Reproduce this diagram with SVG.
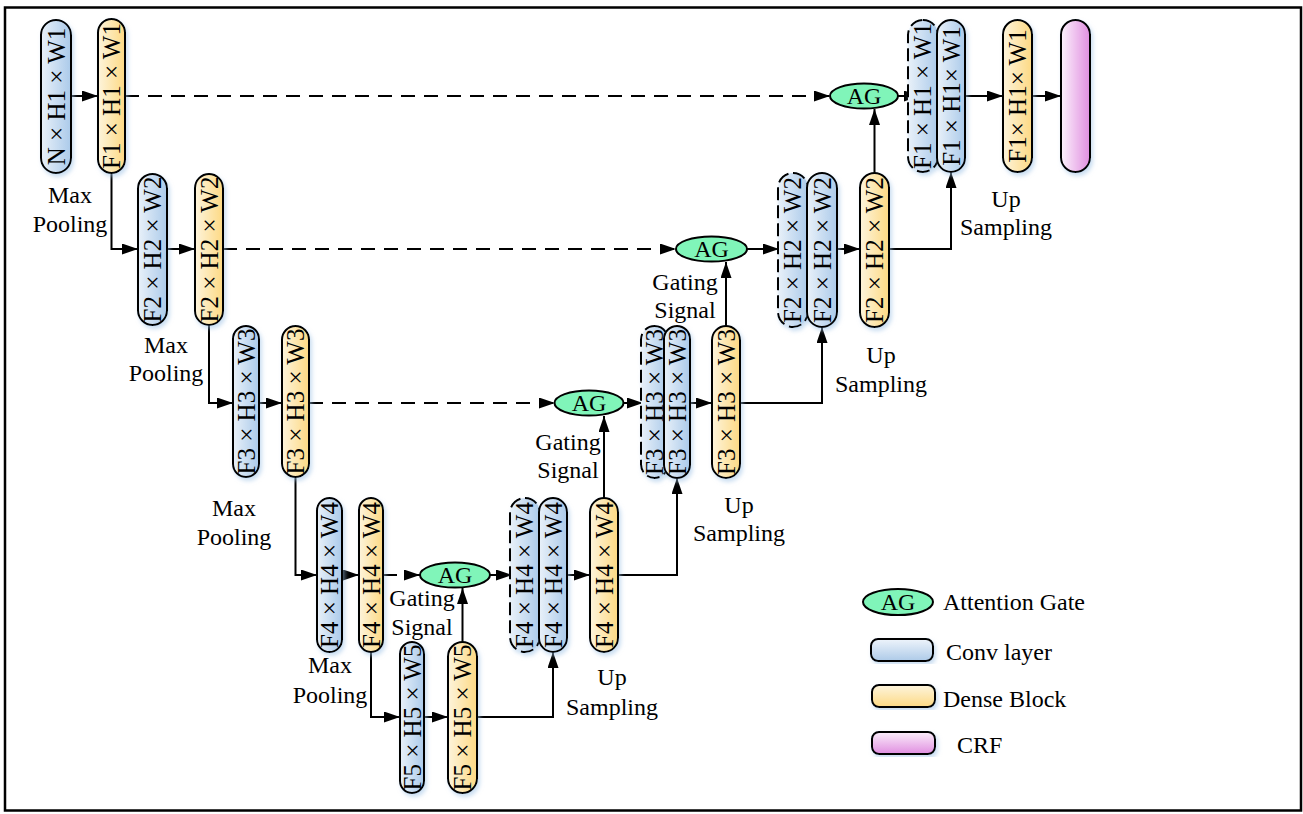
<svg xmlns="http://www.w3.org/2000/svg" width="1303" height="814" viewBox="0 0 1303 814">
<defs>
<linearGradient id="gb" x1="0" y1="0" x2="1" y2="0"><stop offset="0" stop-color="#e9f1f9"/><stop offset="1" stop-color="#abcaea"/></linearGradient>
<linearGradient id="gy" x1="0" y1="0" x2="1" y2="0"><stop offset="0" stop-color="#fdf4dc"/><stop offset="1" stop-color="#fdd983"/></linearGradient>
<linearGradient id="gp" x1="0" y1="0" x2="1" y2="0"><stop offset="0" stop-color="#fcf2fc"/><stop offset="1" stop-color="#e08ee0"/></linearGradient>
<linearGradient id="lb" x1="0" y1="0" x2="0" y2="1"><stop offset="0" stop-color="#eef4fb"/><stop offset="1" stop-color="#adcae8"/></linearGradient>
<linearGradient id="ly" x1="0" y1="0" x2="0" y2="1"><stop offset="0" stop-color="#fdf5de"/><stop offset="1" stop-color="#fdd983"/></linearGradient>
<linearGradient id="lp" x1="0" y1="0" x2="0" y2="1"><stop offset="0" stop-color="#fbeffb"/><stop offset="1" stop-color="#e08ee0"/></linearGradient>
<filter id="sh" x="-40%" y="-10%" width="180%" height="120%"><feDropShadow dx="2" dy="3" stdDeviation="2" flood-color="#9fc3e6" flood-opacity="0.55"/></filter>
<marker id="ah" markerUnits="userSpaceOnUse" markerWidth="16" markerHeight="11" refX="16" refY="5.5" orient="auto"><path d="M0,0 L16,5.5 L0,11 z" fill="#000"/></marker>
</defs>
<style>
.pb{fill:url(#gb);stroke:#000;stroke-width:2;filter:url(#sh)}
.py{fill:url(#gy);stroke:#000;stroke-width:2;filter:url(#sh)}
.pp{fill:url(#gp);stroke:#000;stroke-width:2;filter:url(#sh)}
.pd{fill:url(#gb);stroke:#000;stroke-width:2;stroke-dasharray:13 5;filter:url(#sh)}
.ag{fill:#80f5b9;stroke:#000;stroke-width:2}
.t{font-family:"Liberation Serif","Times New Roman",serif;font-size:24px;fill:#000}
.v{font-size:25px}
.m{text-anchor:middle}
.c{fill:none;stroke:#000;stroke-width:2}
.a{marker-end:url(#ah)}
.d{stroke-dasharray:14 9}
</style>
<rect x="5" y="7.5" width="1296" height="803" fill="#fff" stroke="#000" stroke-width="2.5"/>

<g id="connectors">
<path class="c a" d="M71,96 H98"/>
<path class="c a d" d="M125,96 H830"/>
<path class="c a" d="M111.5,173 V249 H138"/>
<path class="c a" d="M167,249 H195"/>
<path class="c a d" d="M223,249 H676"/>
<path class="c a" d="M209,325 V403 H233"/>
<path class="c a" d="M259,403 H282"/>
<path class="c a d" d="M309,403 H555"/>
<path class="c a" d="M295.5,477 V575 H317"/>
<path class="c a" d="M342,575 H359"/>
<path class="c a d" d="M383,575 H420"/>
<path class="c a" d="M371,652 V717 H400"/>
<path class="c a" d="M424,717 H448"/>
<path class="c a" d="M462.5,642 V588"/>
<path class="c a" d="M490,575 H512"/>
<path class="c a" d="M567,575 H590"/>
<path class="c a" d="M477,717 H553 V652"/>
<path class="c a" d="M604,498 V416"/>
<path class="c a" d="M623,403 H643"/>
<path class="c a" d="M690,403 H712"/>
<path class="c a" d="M618,575 H677 V478"/>
<path class="c a" d="M726,326 V262"/>
<path class="c a" d="M747,249 H779"/>
<path class="c a" d="M837,249 H860"/>
<path class="c a" d="M740,403 H822 V327"/>
<path class="c a" d="M874.5,173 V109"/>
<path class="c a" d="M898,96 H920"/>
<path class="c a" d="M965,96 H1003"/>
<path class="c a" d="M1032,96 H1061"/>
<path class="c a" d="M889,249 H951 V172"/>
</g>

<g id="n1"><rect class="pb" x="41" y="20" width="30" height="153" rx="15"/><text class="t v m" transform="translate(56,96.5) rotate(-90)" y="8.5">N × H1 × W1</text></g>
<g id="n2"><rect class="py" x="98" y="19" width="27" height="154" rx="13.5"/><text class="t v m" transform="translate(111.5,96) rotate(-90)" y="8.5">F1 × H1 × W1</text></g>
<g id="n3"><rect class="pb" x="138" y="174" width="29" height="151" rx="14.5"/><text class="t v m" transform="translate(152.5,249.5) rotate(-90)" y="8.5">F2 × H2 × W2</text></g>
<g id="n4"><rect class="py" x="195" y="174" width="28" height="151" rx="14"/><text class="t v m" transform="translate(209,249.5) rotate(-90)" y="8.5">F2 × H2 × W2</text></g>
<g id="n5"><rect class="pb" x="233" y="326" width="26" height="151" rx="13"/><text class="t v m" transform="translate(246,401.5) rotate(-90)" y="8.5">F3 × H3 × W3</text></g>
<g id="n6"><rect class="py" x="282" y="326" width="27" height="151" rx="13.5"/><text class="t v m" transform="translate(295.5,401.5) rotate(-90)" y="8.5">F3 × H3 × W3</text></g>
<g id="n7"><rect class="pb" x="317" y="498" width="25" height="154" rx="12.5"/><text class="t v m" transform="translate(329.5,575) rotate(-90)" y="8.5">F4 × H4 × W4</text></g>
<g id="n8"><rect class="py" x="359" y="498" width="24" height="154" rx="12"/><text class="t v m" transform="translate(371,575) rotate(-90)" y="8.5">F4 × H4 × W4</text></g>
<g id="n9"><rect class="pb" x="400" y="642" width="24" height="151" rx="12"/><text class="t v m" transform="translate(412,717.5) rotate(-90)" y="8.5">F5 × H5 × W5</text></g>
<g id="n10"><rect class="py" x="448" y="642" width="29" height="151" rx="14.5"/><text class="t v m" transform="translate(462.5,717.5) rotate(-90)" y="8.5">F5 × H5 × W5</text></g>

<g id="ag4"><ellipse class="ag" cx="455" cy="575" rx="35" ry="12.5"/><text class="t m" x="455" y="583">AG</text></g>
<g id="n11"><rect class="pd" x="510" y="498" width="30" height="154" rx="15"/><text class="t v m" transform="translate(524,575) rotate(-90)" y="8.5">F4 × H4 × W4</text></g>
<g id="n12"><rect class="pb" x="539" y="498" width="28" height="154" rx="14"/><text class="t v m" transform="translate(553,575) rotate(-90)" y="8.5">F4 × H4 × W4</text></g>
<g id="n13"><rect class="py" x="590" y="498" width="28" height="154" rx="14"/><text class="t v m" transform="translate(604,575) rotate(-90)" y="8.5">F4 × H4 × W4</text></g>

<g id="ag3"><ellipse class="ag" cx="589" cy="403" rx="34.5" ry="12.5"/><text class="t m" x="589" y="411">AG</text></g>
<g id="n14"><rect class="pd" x="641" y="326" width="27" height="152" rx="13.5"/><text class="t v m" transform="translate(654,402) rotate(-90)" y="8.5">F3 × H3 × W3</text></g>
<g id="n15"><rect class="pb" x="664" y="326" width="26" height="152" rx="13"/><text class="t v m" transform="translate(677,402) rotate(-90)" y="8.5">F3 × H3 × W3</text></g>
<g id="n16"><rect class="py" x="712" y="326" width="28" height="152" rx="14"/><text class="t v m" transform="translate(726,402) rotate(-90)" y="8.5">F3 × H3 × W3</text></g>

<g id="ag2"><ellipse class="ag" cx="711.5" cy="249" rx="35.5" ry="12.5"/><text class="t m" x="711.5" y="257">AG</text></g>
<g id="n17"><rect class="pd" x="778" y="173" width="30" height="154" rx="15"/><text class="t v m" transform="translate(792,250) rotate(-90)" y="8.5">F2 × H2 × W2</text></g>
<g id="n18"><rect class="pb" x="807" y="173" width="30" height="154" rx="15"/><text class="t v m" transform="translate(822,250) rotate(-90)" y="8.5">F2 × H2 × W2</text></g>
<g id="n19"><rect class="py" x="860" y="173" width="29" height="154" rx="14.5"/><text class="t v m" transform="translate(874.5,250) rotate(-90)" y="8.5">F2 × H2 × W2</text></g>

<g id="ag1"><ellipse class="ag" cx="864" cy="96" rx="34" ry="12.5"/><text class="t m" x="864" y="104">AG</text></g>
<g id="n20"><rect class="pd" x="908" y="20" width="30" height="152" rx="15"/><text class="t v m" transform="translate(922,96) rotate(-90)" y="8.5">F1 × H1 × W1</text></g>
<g id="n21"><rect class="pb" x="937" y="20" width="28" height="152" rx="14"/><text class="t v m" transform="translate(951,96) rotate(-90)" y="8.5">F1 × H1× W1</text></g>
<g id="n22"><rect class="py" x="1003" y="20" width="29" height="152" rx="14.5"/><text class="t v m" transform="translate(1017.5,96) rotate(-90)" y="8.5">F1× H1× W1</text></g>
<g id="n23"><rect class="pp" x="1061" y="20" width="29" height="152" rx="14.5"/></g>

<g id="labels">
<text class="t m" x="70" y="203">Max</text><text class="t m" x="70" y="232">Pooling</text>
<text class="t m" x="166" y="353">Max</text><text class="t m" x="166" y="381">Pooling</text>
<text class="t m" x="234" y="516">Max</text><text class="t m" x="234" y="545">Pooling</text>
<text class="t m" x="330" y="673">Max</text><text class="t m" x="330" y="703">Pooling</text>
<text class="t m" x="422" y="606">Gating</text><text class="t m" x="422" y="635">Signal</text>
<text class="t m" x="568" y="450">Gating</text><text class="t m" x="568" y="478">Signal</text>
<text class="t m" x="685" y="290">Gating</text><text class="t m" x="685" y="318">Signal</text>
<text class="t m" x="612" y="685">Up</text><text class="t m" x="612" y="715">Sampling</text>
<text class="t m" x="739" y="513">Up</text><text class="t m" x="739" y="541">Sampling</text>
<text class="t m" x="881" y="363">Up</text><text class="t m" x="881" y="392">Sampling</text>
<text class="t m" x="1006" y="207">Up</text><text class="t m" x="1006" y="235">Sampling</text>
</g>

<g id="legend">
<g id="leg-ag"><ellipse class="ag" cx="898" cy="602" rx="35" ry="13"/><text class="t m" x="898" y="610">AG</text><text class="t" x="943" y="610">Attention Gate</text></g>
<g id="leg-conv"><rect x="871" y="639" width="62" height="22" rx="7" fill="url(#lb)" stroke="#000" stroke-width="2" filter="url(#sh)"/><text class="t" x="946" y="660">Conv layer</text></g>
<g id="leg-dense"><rect x="872" y="685" width="63" height="22" rx="7" fill="url(#ly)" stroke="#000" stroke-width="2" filter="url(#sh)"/><text class="t" x="943" y="707">Dense Block</text></g>
<g id="leg-crf"><rect x="872" y="732" width="63" height="22" rx="7" fill="url(#lp)" stroke="#000" stroke-width="2" filter="url(#sh)"/><text class="t" x="957" y="753">CRF</text></g>
</g>
</svg>
